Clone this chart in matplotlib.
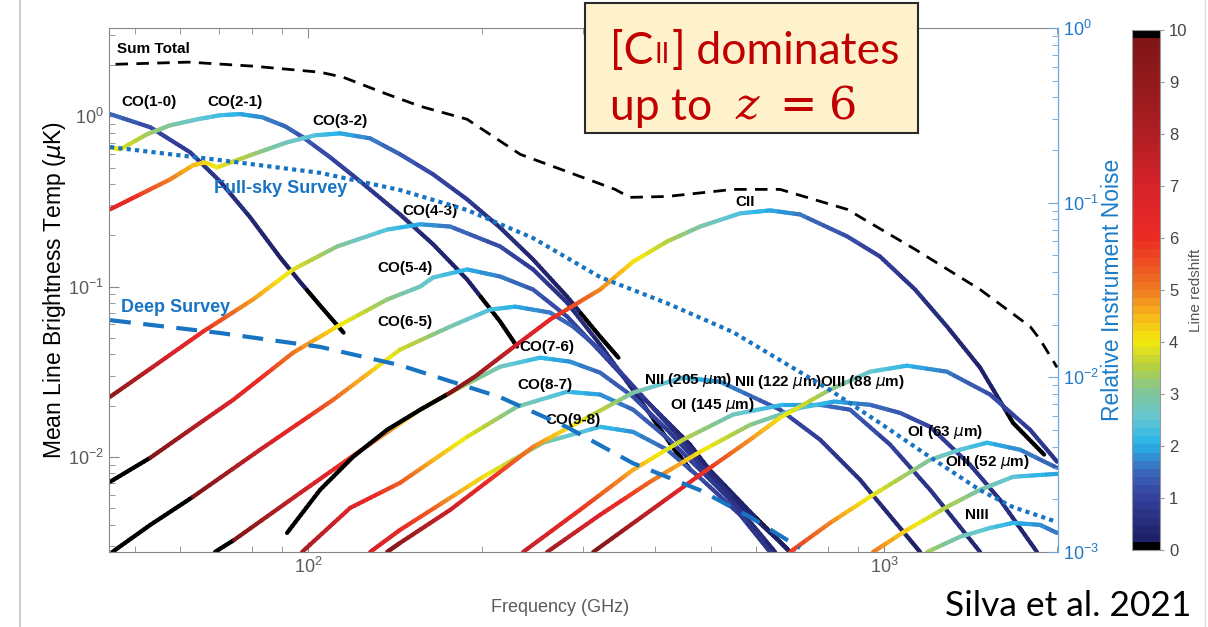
import numpy as np
import matplotlib
matplotlib.use("Agg")
import matplotlib.pyplot as plt
from matplotlib import font_manager
from matplotlib.collections import LineCollection
from matplotlib.colors import LinearSegmentedColormap, ListedColormap, Normalize
from matplotlib.lines import Line2D
from matplotlib.patches import Rectangle
from matplotlib.cm import ScalarMappable

plt.rcParams['font.family'] = ['Liberation Sans', 'DejaVu Sans']
installed = {f.name for f in font_manager.fontManager.ttflist}
narrow = 'Liberation Sans Narrow' if 'Liberation Sans Narrow' in installed else 'Liberation Sans'

# ---- line data: observed frequency (GHz) and mean brightness temperature (uK)
CO10_REST = 115.27
co10_freq = [45.3, 53.2, 62.4, 70.3, 79.3, 89.4, 96.9, 104.9, 115.2]
co10_temp = [1.03, 0.862, 0.614, 0.415, 0.255, 0.148, 0.106, 0.0773, 0.0536]

CO21_REST = 230.54
co21_freq = [45.3, 47.2, 52.5, 57.6, 64.2, 70.3, 76.2, 83.2, 91.2, 98.0, 109.2, 123.1, 144.4, 164.8, 188.8, 215.4, 230.5]
co21_temp = [0.657, 0.640, 0.784, 0.885, 0.960, 1.014, 1.03, 0.987, 0.873, 0.752, 0.574, 0.415, 0.265, 0.177, 0.110, 0.0623, 0.0444]

CO32_REST = 345.80
co32_freq = [45.3, 51.1, 57.6, 63.1, 66.2, 69.5, 80.2, 91.9, 102.8, 113.6, 128.1, 144.4, 164.8, 188.8, 215.4, 245.8, 281.5, 321.3, 345.8]
co32_temp = [0.284, 0.348, 0.426, 0.515, 0.536, 0.501, 0.598, 0.703, 0.773, 0.794, 0.742, 0.598, 0.456, 0.325, 0.222, 0.144, 0.0873, 0.0508, 0.0382]

CO43_REST = 461.04
co43_freq = [45.3, 53.8, 65.7, 80.2, 94.2, 112.3, 137.1, 156.5, 176.5, 215.4, 245.8, 281.5, 321.3, 377.0, 430.2, 461.0]
co43_temp = [0.0225, 0.0338, 0.0544, 0.0839, 0.126, 0.172, 0.216, 0.232, 0.225, 0.172, 0.126, 0.0805, 0.0456, 0.0216, 0.0113, 0.00839]

CO54_REST = 576.27
co54_freq = [45.3, 53.2, 63.1, 74.1, 94.2, 112.3, 137.1, 156.5, 164.8, 188.8, 215.4, 245.8, 281.5, 321.3, 377.0, 460.4, 540.3, 576.2]
co54_temp = [0.00713, 0.00987, 0.0148, 0.0216, 0.0409, 0.0582, 0.0839, 0.100, 0.113, 0.126, 0.1145, 0.096, 0.0667, 0.0415, 0.0232, 0.0118, 0.00582, 0.00444]

CO65_REST = 691.47
co65_freq = [45.7, 53.2, 63.1, 82.5, 110.5, 144.4, 176.5, 207.0, 228.8, 263.1, 288.4, 321.3, 392.4, 479.2, 585.3, 686.8]
co65_temp = [0.00276, 0.00398, 0.00582, 0.0110, 0.0216, 0.0426, 0.0582, 0.0732, 0.0762, 0.0703, 0.0582, 0.0426, 0.0202, 0.0096, 0.00475, 0.00276]

CO76_REST = 806.65
co76_freq = [68.9, 74.4, 96.9, 123.1, 156.5, 176.5, 215.4, 252.8, 285.0, 321.3, 366.7, 420.1, 479.2, 562.3, 659.8, 686.8]
co76_temp = [0.00276, 0.00325, 0.00614, 0.01084, 0.0189, 0.0238, 0.0338, 0.0382, 0.0362, 0.0312, 0.0225, 0.0144, 0.00897, 0.00522, 0.00316, 0.00276]

CO87_REST = 921.80
co87_freq = [97.6, 118.3, 144.4, 188.8, 230.6, 281.5, 321.3, 366.7, 420.1, 479.2, 562.3, 646.9]
co87_temp = [0.00276, 0.00501, 0.00703, 0.0131, 0.0197, 0.0241, 0.0232, 0.0189, 0.0129, 0.00839, 0.00488, 0.00276]

CO98_REST = 1036.91
co98_freq = [128.1, 144.4, 201.3, 255.9, 321.3, 366.7, 420.1, 479.2, 562.3, 634.0]
co98_temp = [0.00276, 0.00372, 0.00763, 0.0121, 0.0150, 0.0140, 0.0110, 0.00752, 0.00456, 0.00276]

CII_REST = 1900.54
cii_freq = [91.9, 104.9, 119.7, 137.1, 156.5, 176.5, 194.9, 224.3, 263.1, 321.3, 366.7, 420.1, 479.2, 562.3, 634.0, 714.8, 862.6, 984.1, 1132, 1286, 1468, 1675, 1896]
cii_temp = [0.00357, 0.0064, 0.0100, 0.0144, 0.0189, 0.0238, 0.0296, 0.0426, 0.064, 0.096, 0.140, 0.184, 0.225, 0.269, 0.280, 0.265, 0.197, 0.150, 0.096, 0.0582, 0.0334, 0.0158, 0.0103]

NII205_REST = 1461.13
nii205_freq = [137.1, 144.4, 176.5, 245.8, 300.3, 366.7, 447.7, 519.1, 659.8, 774.3, 908.6, 1066, 1155]
nii205_temp = [0.00276, 0.00312, 0.00488, 0.01145, 0.0165, 0.0238, 0.0292, 0.0276, 0.0189, 0.0126, 0.00732, 0.00382, 0.00276]

OI145_REST = 2060.07
oi145_freq = [236.2, 296.6, 366.7, 447.7, 546.8, 667.8, 774.3, 873.0, 1024, 1202, 1468]
oi145_temp = [0.00276, 0.00488, 0.00839, 0.0126, 0.0177, 0.0202, 0.0202, 0.0189, 0.0118, 0.0064, 0.00276]

NII122_REST = 2459.38
nii122_freq = [260.0, 321.3, 392.4, 479.2, 585.3, 714.8, 819.0, 945.6, 1066, 1202, 1410, 1590, 1843]
nii122_temp = [0.00276, 0.00456, 0.00713, 0.0107, 0.0154, 0.0194, 0.0211, 0.0202, 0.0181, 0.0150, 0.00897, 0.00558, 0.00276]

OIII88_REST = 3393.01
oiii88_freq = [312.6, 392.4, 479.2, 585.3, 659.8, 805.9, 945.6, 1096, 1286, 1528, 1793, 1997]
oiii88_temp = [0.00276, 0.00481, 0.00784, 0.0126, 0.01696, 0.0248, 0.0316, 0.0343, 0.0316, 0.0232, 0.0144, 0.00935]

OI63_REST = 4744.78
oi63_freq = [686.8, 805.9, 945.6, 1202, 1355, 1510, 1722, 1997]
oi63_temp = [0.00276, 0.00409, 0.00582, 0.0096, 0.011, 0.0121, 0.011, 0.00861]

OIII52_REST = 5785.88
oiii52_freq = [957, 1096, 1286, 1468, 1675, 1997]
oiii52_temp = [0.00276, 0.00372, 0.00508, 0.0064, 0.00763, 0.00794]

NIII_REST = 5230.43
niii_freq = [1188, 1355, 1528, 1675, 1866, 1997]
niii_temp = [0.00276, 0.00339, 0.00382, 0.00409, 0.00398, 0.00357]

# sum of all lines
sum_freq = [46.3, 62.0, 80.2, 104.9, 115.0, 137.2, 156.5, 188.8, 233.4, 341.2, 361.7, 419.9, 546.7, 659.8, 862.6, 1133, 1468, 1793, 1866, 1997]
sum_temp = [2.02, 2.08, 1.97, 1.815, 1.696, 1.347, 1.145, 0.96, 0.598, 0.372, 0.334, 0.338, 0.372, 0.372, 0.284, 0.165, 0.096, 0.0582, 0.0488, 0.0335]

# relative instrument noise (right axis)
fullsky_freq = [45.3, 70.3, 104.9, 144.4, 188.8, 245.8, 321.3, 419.9, 546.7, 659.8, 805.9, 984.1, 1202, 1468, 1675, 1997]
fullsky_noise = [0.208, 0.175, 0.148, 0.118, 0.0906, 0.0626, 0.0374, 0.0265, 0.0181, 0.0125, 0.00843, 0.00545, 0.00348, 0.00225, 0.0018, 0.00148]
deep_freq = [45.3, 70.3, 104.9, 144.4, 215.4, 281.5, 366.5, 479.2, 585.3, 714.8]
deep_noise = [0.0212, 0.0179, 0.0149, 0.0117, 0.00768, 0.00517, 0.00321, 0.00225, 0.00158, 0.00105]

# label text and where it sits (freq, temp)
label_names = ['CO(1-0)', 'CO(2-1)', 'CO(3-2)', 'CO(4-3)', 'CO(5-4)', 'CO(6-5)', 'CO(7-6)', 'CO(8-7)', 'CO(9-8)',
               'CII', r'NII (205 $\mu$m)', r'NII (122 $\mu$m)', r'OI (145 $\mu$m)', r'OIII (88 $\mu$m)',
               r'OI (63 $\mu$m)', r'OIII (52 $\mu$m)', 'NIII']
label_freq = [53.0, 74.7, 113.6, 162.9, 147.4, 147.4, 260.0, 257.9, 288.4, 573.8, 456.7, 654.9, 502.8, 915.8, 1276, 1510, 1449]
label_temp = [1.21, 1.21, 0.935, 0.276, 0.129, 0.0623, 0.0444, 0.0265, 0.0165, 0.312, 0.0284, 0.0276, 0.0202, 0.0276, 0.0140, 0.00935, 0.00456]

# redshift colormap (ends are black, like the original)
anchors = [(0.0, '#1a1a5c'), (0.1, '#3543a0'), (0.15, '#3a6cbc'), (0.2, '#28b4ea'), (0.25, '#66c7d2'),
           (0.3, '#80c59a'), (0.35, '#b6d040'), (0.4, '#f3ea0d'), (0.45, '#f7b51c'), (0.5, '#f07b22'),
           (0.55, '#ee5322'), (0.6, '#ec2a24'), (0.7, '#d8232a'), (0.8, '#b11e24'), (0.9, '#941a1c'),
           (1.0, '#7c1416')]
base = LinearSegmentedColormap.from_list('zmap', anchors, N=64)
cols = base(np.linspace(0, 1, 64))
cols[0] = [0, 0, 0, 1]
cols[-1] = [0, 0, 0, 1]
cmap = ListedColormap(cols)
norm = Normalize(0, 10)


def draw_line(ax, rest, freq, temp, nsub=12):
    # colour each piece of the polyline by the redshift it corresponds to
    lf = np.log10(freq)
    lt = np.log10(temp)
    segs = []
    zs = []
    for i in range(len(lf) - 1):
        s = np.linspace(0, 1, nsub + 1)
        xf = lf[i] + (lf[i + 1] - lf[i]) * s
        yt = lt[i] + (lt[i + 1] - lt[i]) * s
        for k in range(nsub):
            segs.append([(10 ** xf[k], 10 ** yt[k]), (10 ** xf[k + 1], 10 ** yt[k + 1])])
            zs.append(rest / 10 ** ((xf[k] + xf[k + 1]) / 2) - 1)
    lc = LineCollection(segs, cmap=cmap, norm=norm, linewidths=3, capstyle='round', joinstyle='round')
    lc.set_array(np.array(zs))
    ax.add_collection(lc)


W, H = 1208, 627
fig = plt.figure(figsize=(W / 100, H / 100), dpi=100)
fig.patch.set_facecolor('white')
ax = fig.add_axes([109 / W, 1 - 551.7 / H, 948.7 / W, 523.7 / H])
ax.set_xscale('log')
ax.set_yscale('log')
ax.set_xlim(45.1, 2002)
ax.set_ylim(2.77e-3, 3.3)

lines = [
    (CO10_REST, co10_freq, co10_temp), (CO21_REST, co21_freq, co21_temp), (CO32_REST, co32_freq, co32_temp),
    (CO43_REST, co43_freq, co43_temp), (CO54_REST, co54_freq, co54_temp), (CO65_REST, co65_freq, co65_temp),
    (CO76_REST, co76_freq, co76_temp), (CO87_REST, co87_freq, co87_temp), (CO98_REST, co98_freq, co98_temp),
    (CII_REST, cii_freq, cii_temp), (NII205_REST, nii205_freq, nii205_temp), (OI145_REST, oi145_freq, oi145_temp),
    (NII122_REST, nii122_freq, nii122_temp), (OIII88_REST, oiii88_freq, oiii88_temp),
    (OI63_REST, oi63_freq, oi63_temp), (OIII52_REST, oiii52_freq, oiii52_temp), (NIII_REST, niii_freq, niii_temp),
]
for rest, fr, tt in lines:
    draw_line(ax, rest, fr, tt)

ax.plot(sum_freq, sum_temp, color='black', lw=2, linestyle=(0, (4.5, 3)))
ax.text(46.6, 2.48, 'Sum Total', fontsize=11, fontweight='bold', family=narrow, va='center', ha='left')

for name, fx, ty in zip(label_names, label_freq, label_temp):
    ax.text(fx, ty, name, fontsize=11, fontweight='bold', family=narrow, ha='center', va='center')

grey = '#5a5a5a'
for sp in ax.spines.values():
    sp.set_color('#888888')
ax.tick_params(which='both', direction='in', top=True, right=False, colors='#888888', labelcolor=grey, labelsize=13)
ax.tick_params(which='major', length=7)
ax.tick_params(which='minor', length=4)
ax.set_xlabel('Frequency (GHz)', fontsize=13, color=grey)
ax.xaxis.set_label_coords(0.475, -0.09)
ax.set_ylabel(r'Mean Line Brightness Temp ($\mu$K)', fontsize=16.5, color='black')
ax.yaxis.set_label_coords(-0.043, 0.5)

# noise on the right axis
ax2 = ax.twinx()
ax2.set_yscale('log')
ax2.set_ylim(1e-3, 1)
noise_blue = '#1874c2'
ax2.plot(fullsky_freq, fullsky_noise, color=noise_blue, lw=3, linestyle=(0, (1, 1)))
ax2.plot(deep_freq, deep_noise, color=noise_blue, lw=3, linestyle=(0, (5, 3)))
ax2.set_xlim(45.1, 2002)
ax2.text(89.4, 0.121, 'Full-sky Survey', color=noise_blue, fontsize=13, fontweight='bold', family=narrow,
         ha='center', va='center')
ax2.text(58.8, 0.0252, 'Deep Survey', color=noise_blue, fontsize=13, fontweight='bold', family=narrow,
         ha='center', va='center')
for side in ['left', 'top', 'bottom']:
    ax2.spines[side].set_visible(False)
ax2.spines['right'].set_color('#6aa9e0')
ax2.tick_params(which='both', direction='in', colors='#6aa9e0', labelcolor='#2079c7', labelsize=13)
ax2.tick_params(which='major', length=7)
ax2.tick_params(which='minor', length=4)
ax2.set_ylabel('Relative Instrument Noise', fontsize=16.5, color='#1a7cc8')
ax2.yaxis.set_label_coords(1.046, 0.5)

# colorbar
cax = fig.add_axes([1132 / W, 1 - 550 / H, 28 / W, 520 / H])
cb = fig.colorbar(ScalarMappable(norm=norm, cmap=cmap), cax=cax, ticks=range(0, 11))
cb.outline.set_edgecolor('#999999')
cax.tick_params(labelsize=12, colors='#999999', labelcolor='#444444', length=3)
cb.set_label('Line redshift', fontsize=11, color='#555555')
cax.yaxis.set_label_coords(2.05, 0.5)

# slide border lines
fig.add_artist(Line2D([20 / W, 20 / W], [0, 1], color='#cccccc', lw=1.5))
fig.add_artist(Line2D([1205 / W, 1205 / W], [0, 1], color='#dddddd', lw=1))

# annotation box
red = '#c00000'
box_font = ['Lato', 'DejaVu Sans']
fig.add_artist(Rectangle((585 / W, 1 - 133 / H), 333 / W, 130 / H, facecolor='#fef2cc',
                         edgecolor='#2b2b2b', lw=1.5, zorder=5))
fs = 32
t1 = fig.text(610 / W, 1 - 64 / H, '[C', color=red, fontsize=fs, family=box_font, zorder=6)
t2 = fig.add_artist(plt.Annotation('II', xy=(1, 0), xycoords=t1, xytext=(1, 2.6), textcoords='offset points',
                                   va='bottom', color=red, fontsize=fs * 0.62, family=box_font, zorder=6))
t3 = fig.add_artist(plt.Annotation(']', xy=(1, 0), xycoords=t2, xytext=(1, -2.6), textcoords='offset points',
                                   va='bottom', color=red, fontsize=fs, family=box_font, zorder=6))
fig.add_artist(plt.Annotation(' dominates', xy=(1, 0), xycoords=t3, va='bottom', color=red, fontsize=fs,
                              family=box_font, zorder=6))
t4 = fig.text(610 / W, 1 - 120 / H, 'up to', color=red, fontsize=fs, family=box_font, zorder=6)
t5 = fig.add_artist(plt.Annotation('z', xy=(1, 0), xycoords=t4, xytext=(17, 0), textcoords='offset points',
                                   va='bottom', color=red, fontsize=fs, family='DejaVu Serif', style='italic',
                                   zorder=6))
fig.add_artist(plt.Annotation('=', xy=(1, 0), xycoords=t5, xytext=(14, 0), textcoords='offset points',
                              va='bottom', color=red, fontsize=fs, family='DejaVu Serif', zorder=6))
fig.text(843 / W, 1 - 120 / H, '6', color=red, fontsize=fs, family='DejaVu Serif', ha='center', zorder=6)

fig.text(1068 / W, 1 - 606 / H, 'Silva et al. 2021', fontsize=25.5, family=box_font, ha='center', va='center')

fig.savefig('out.png', dpi=100)
